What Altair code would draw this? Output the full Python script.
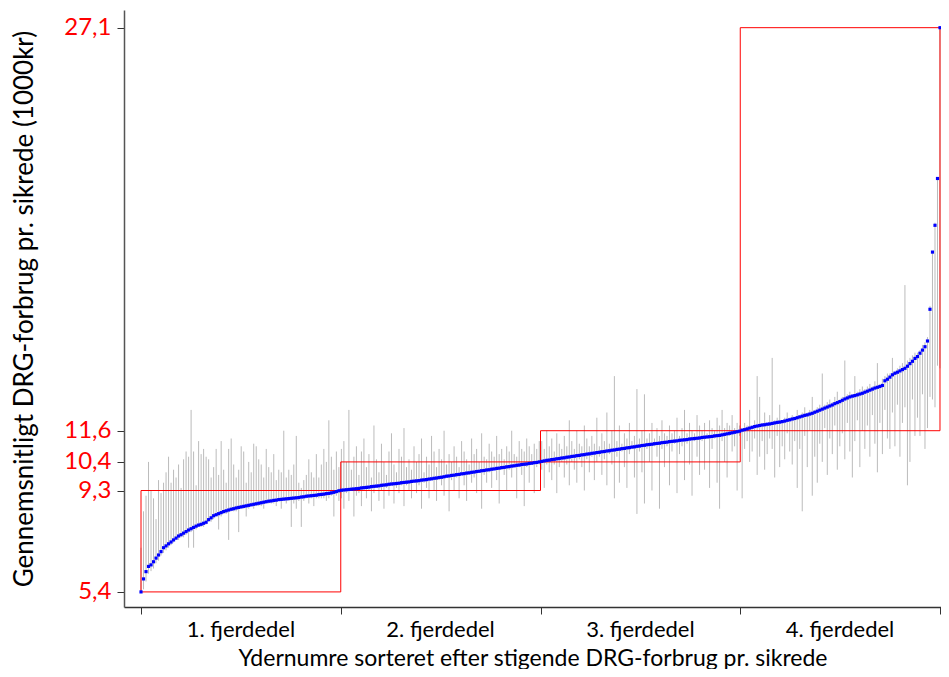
import altair as alt
import pandas as pd

# Average DRG cost per insured (1000 kr), one value per provider, sorted ascending
values = [
    5.40, 5.90, 6.18, 6.38, 6.44, 6.56, 6.70, 6.82, 6.95, 7.10,
    7.17, 7.25, 7.32, 7.40, 7.47, 7.55, 7.60, 7.66, 7.72, 7.78,
    7.83, 7.88, 7.93, 7.97, 8.00, 8.04, 8.08, 8.18, 8.25, 8.33,
    8.37, 8.41, 8.45, 8.49, 8.52, 8.55, 8.58, 8.60, 8.63, 8.65,
    8.67, 8.69, 8.71, 8.73, 8.75, 8.77, 8.79, 8.81, 8.83, 8.85,
    8.87, 8.89, 8.90, 8.92, 8.93, 8.95, 8.96, 8.97, 8.98, 8.99,
    9.00, 9.01, 9.02, 9.03, 9.05, 9.06, 9.08, 9.09, 9.10, 9.11,
    9.12, 9.14, 9.15, 9.16, 9.18, 9.19, 9.21, 9.23, 9.26, 9.29,
    # 2. fjerdedel
    9.31, 9.32, 9.33, 9.34, 9.35, 9.36, 9.37, 9.38, 9.40, 9.41,
    9.42, 9.43, 9.45, 9.46, 9.47, 9.48, 9.50, 9.51, 9.52, 9.54,
    9.55, 9.56, 9.57, 9.58, 9.60, 9.61, 9.62, 9.63, 9.65, 9.66,
    9.67, 9.68, 9.70, 9.71, 9.72, 9.74, 9.75, 9.77, 9.78, 9.80,
    9.81, 9.83, 9.85, 9.86, 9.88, 9.89, 9.91, 9.92, 9.94, 9.95,
    9.97, 9.98, 10.00, 10.01, 10.03, 10.04, 10.06, 10.07, 10.09, 10.10,
    10.12, 10.13, 10.15, 10.16, 10.18, 10.19, 10.21, 10.22, 10.24, 10.25,
    10.27, 10.28, 10.30, 10.31, 10.32, 10.34, 10.35, 10.37, 10.38, 10.40,
    # 3. fjerdedel
    10.42, 10.44, 10.46, 10.47, 10.49, 10.50, 10.52, 10.53, 10.55, 10.56,
    10.58, 10.59, 10.61, 10.62, 10.64, 10.65, 10.67, 10.68, 10.70, 10.71,
    10.73, 10.74, 10.76, 10.77, 10.79, 10.80, 10.82, 10.83, 10.85, 10.86,
    10.88, 10.89, 10.91, 10.92, 10.94, 10.95, 10.97, 10.98, 11.00, 11.01,
    11.03, 11.04, 11.06, 11.07, 11.08, 11.10, 11.11, 11.12, 11.14, 11.15,
    11.16, 11.18, 11.19, 11.20, 11.21, 11.23, 11.24, 11.25, 11.26, 11.28,
    11.29, 11.30, 11.31, 11.32, 11.34, 11.35, 11.36, 11.37, 11.38, 11.40,
    11.41, 11.42, 11.44, 11.46, 11.48, 11.50, 11.52, 11.54, 11.56, 11.58,
    # 4. fjerdedel
    11.62, 11.64, 11.67, 11.70, 11.73, 11.76, 11.78, 11.80, 11.82, 11.83,
    11.85, 11.86, 11.88, 11.90, 11.92, 11.93, 11.95, 11.97, 12.00, 12.02,
    12.05, 12.07, 12.10, 12.13, 12.16, 12.19, 12.21, 12.24, 12.27, 12.31,
    12.35, 12.39, 12.43, 12.47, 12.51, 12.55, 12.59, 12.64, 12.68, 12.72,
    12.77, 12.82, 12.86, 12.90, 12.93, 12.95, 12.98, 13.01, 13.04, 13.08,
    13.12, 13.16, 13.20, 13.24, 13.27, 13.30, 13.34, 13.52, 13.58, 13.66,
    13.75, 13.81, 13.85, 13.90, 13.95, 14.00, 14.08, 14.18, 14.27, 14.38,
    14.45, 14.58, 14.70, 14.83, 15.05, 16.27, 18.47, 19.50, 21.30, 27.10,
]

# grey ranges behind each point (low / high)
lows = [
    5.4, 5.5, 5.8, 6.1, 6.2, 6.3, 6.5, 6.6, 6.8, 6.9,
    7.0, 7.1, 7.2, 7.3, 7.4, 7.4, 7.5, 7.5, 7.6, 7.1,
    7.7, 7.1, 7.8, 7.9, 7.9, 7.9, 8.0, 8.1, 8.1, 8.2,
    8.3, 7.8, 8.3, 8.4, 8.4, 7.4, 8.5, 8.5, 8.5, 7.7,
    8.6, 8.6, 8.3, 8.6, 8.7, 8.6, 8.7, 8.7, 8.7, 8.6,
    8.8, 8.8, 8.8, 8.8, 8.7, 8.9, 8.6, 8.9, 8.8, 8.9,
    7.9, 8.8, 8.6, 8.9, 7.9, 8.9, 9.0, 8.8, 9.0, 8.7,
    9.0, 9.0, 9.0, 9.0, 8.9, 9.0, 9.1, 8.3, 9.1, 8.9,
    9.0, 8.6, 9.2, 8.9, 9.3, 8.3, 9.1, 9.2, 8.7, 9.3,
    9.0, 9.3, 8.5, 9.2, 9.4, 8.9, 9.3, 8.6, 9.4, 9.1,
    9.5, 8.8, 9.4, 9.2, 9.5, 8.7, 9.5, 9.3, 9.0, 9.6,
    9.2, 9.5, 8.6, 9.6, 9.4, 9.0, 9.7, 9.3, 8.9, 9.7,
    9.5, 9.1, 9.8, 8.5, 9.7, 9.3, 9.8, 9.0, 9.9, 9.5,
    8.9, 9.9, 9.6, 9.8, 9.2, 10.0, 8.6, 9.9, 9.6, 10.0,
    9.4, 10.1, 9.7, 8.8, 10.1, 9.9, 9.3, 10.1, 9.8, 10.2,
    9.0, 10.2, 9.9, 8.7, 10.2, 9.6, 10.3, 9.2, 10.2, 10.3,
    10.1, 9.4, 10.3, 10.0, 9.7, 10.3, 9.2, 10.2, 10.4, 9.8,
    10.3, 9.5, 10.4, 10.1, 9.6, 10.5, 10.2, 9.3, 10.5, 10.0,
    10.6, 9.7, 10.4, 10.6, 9.9, 10.5, 9.5, 10.7, 10.3, 9.0,
    10.6, 9.6, 10.8, 10.2, 9.4, 10.7, 10.9, 9.8, 8.4, 10.8,
    10.0, 8.8, 10.9, 10.4, 9.3, 11.0, 10.6, 8.6, 10.9, 10.2,
    11.0, 9.5, 10.8, 11.1, 9.2, 10.7, 11.0, 9.7, 11.1, 10.3,
    9.1, 11.2, 10.6, 9.9, 11.2, 10.1, 11.3, 9.4, 10.9, 11.3,
    9.6, 8.6, 11.2, 10.4, 9.8, 11.4, 10.8, 11.0, 9.3, 11.4,
    9.0, 10.9, 11.2, 10.4, 10.8, 11.3, 9.9, 10.6, 11.2, 10.1,
    10.7, 11.3, 10.9, 9.8, 11.4, 10.2, 11.0, 10.5, 11.5, 10.8,
    10.3, 11.2, 9.4, 10.9, 8.5, 11.4, 10.2, 11.6, 9.1, 10.6,
    9.6, 11.1, 10.4, 11.7, 9.9, 11.3, 10.7, 11.8, 10.1, 11.0,
    11.5, 10.5, 11.9, 10.8, 9.8, 11.2, 12.0, 10.2, 11.6, 10.9,
    11.8, 10.6, 12.2, 11.1, 10.0, 11.9, 10.7, 12.4, 11.3, 10.9,
    12.3, 11.0, 12.6, 10.6, 11.9, 12.5, 9.5, 10.4, 12.8, 11.4,
    12.1, 11.4, 13.0, 10.9, 11.7, 12.9, 12.8, 12.5, 14.1, 14.0,
]
highs = [
    7.1, 8.5, 9.1, 10.4, 9.3, 9.0, 8.2, 9.7, 9.2, 9.6,
    10.0, 10.6, 9.6, 10.1, 9.8, 10.3, 9.4, 10.5, 10.8, 10.6,
    12.4, 10.8, 9.5, 11.2, 10.7, 10.9, 10.6, 10.5, 9.8, 10.2,
    10.9, 9.9, 11.2, 10.1, 9.6, 10.9, 11.3, 10.3, 9.8, 10.1,
    11.0, 10.8, 9.6, 10.4, 10.0, 11.1, 11.0, 10.5, 10.3, 9.8,
    10.9, 10.2, 10.0, 10.7, 9.7, 10.1, 10.0, 11.6, 9.8, 10.1,
    9.9, 10.3, 11.4, 9.6, 9.4, 9.7, 9.9, 10.5, 10.0, 9.8,
    10.7, 9.8, 10.3, 10.9, 10.4, 12.0, 10.6, 10.1, 10.8, 10.2,
    10.9, 11.2, 10.4, 12.4, 10.1, 10.6, 11.0, 9.9, 10.8, 11.3,
    10.2, 10.7, 9.8, 11.8, 10.5, 10.0, 11.1, 10.4, 9.9, 10.8,
    11.5, 10.3, 10.0, 10.9, 10.6, 11.7, 10.2, 10.5, 10.1, 11.0,
    10.4, 10.7, 11.3, 10.0, 10.6, 10.3, 11.4, 10.8, 10.2, 10.9,
    10.5, 11.6, 10.3, 10.7, 10.4, 11.0, 10.6, 10.2, 11.2, 10.8,
    10.5, 10.3, 11.3, 10.7, 10.9, 10.4, 11.5, 10.6, 10.5, 11.1,
    10.8, 10.6, 11.4, 10.7, 10.9, 10.5, 11.0, 10.8, 11.6, 10.7,
    10.6, 11.2, 10.9, 10.8, 11.3, 11.0, 10.7, 11.1, 10.9, 11.2,
    11.2, 10.9, 11.6, 11.0, 11.3, 10.8, 11.5, 11.1, 10.9, 11.4,
    11.0, 12.0, 11.2, 10.9, 11.6, 11.1, 11.0, 11.8, 11.3, 11.0,
    11.4, 11.1, 12.1, 11.0, 11.5, 11.2, 12.3, 11.1, 11.6, 13.7,
    11.2, 11.8, 11.1, 11.5, 11.3, 11.9, 11.2, 11.4, 13.2, 11.3,
    11.6, 13.0, 11.3, 11.5, 11.9, 11.3, 11.7, 11.4, 12.0, 11.5,
    11.4, 11.8, 11.5, 11.6, 12.1, 11.4, 11.7, 12.4, 11.5, 11.9,
    11.6, 11.5, 12.2, 11.8, 11.6, 11.9, 11.5, 12.0, 11.7, 11.6,
    12.1, 11.8, 12.4, 11.7, 11.9, 11.8, 12.2, 11.7, 11.9, 11.8,
    11.7, 11.9, 11.8, 12.4, 11.8, 12.0, 13.7, 12.9, 11.9, 12.3,
    11.9, 12.2, 14.4, 12.0, 12.1, 12.6, 12.0, 12.1, 12.3, 12.1,
    12.2, 12.1, 12.4, 12.2, 12.3, 12.5, 12.3, 12.4, 12.9, 12.4,
    12.5, 12.6, 13.8, 12.6, 12.7, 12.8, 12.7, 12.9, 13.1, 12.8,
    12.9, 14.3, 13.0, 13.1, 13.0, 13.7, 13.1, 13.2, 13.3, 13.2,
    13.3, 13.4, 13.3, 13.5, 14.2, 13.4, 13.6, 13.7, 13.8, 13.8,
    14.4, 13.9, 14.0, 14.1, 14.2, 17.2, 14.3, 14.4, 14.5, 14.6,
    14.6, 14.7, 14.9, 15.0, 15.2, 16.4, 18.5, 19.6, 21.3, 27.1,
]

# quartile boxes: rank span and value span
box_start = [0, 79.75, 159.5, 239.25]
box_end = [79.75, 159.5, 239.25, 319]
box_low = [5.4, 9.3, 10.4, 11.6]
box_high = [9.3, 10.4, 11.6, 27.1]
quartile_labels = ["1. fjerdedel", "2. fjerdedel", "3. fjerdedel", "4. fjerdedel"]
quartile_mid = [39.9, 119.6, 199.4, 279.1]
y_ticks = [5.4, 9.3, 10.4, 11.6, 27.1]
x_ticks = [0, 79.75, 159.5, 239.25, 319]

FONT = "Lato"
W, H = 817, 597

df = pd.DataFrame({"rank": range(len(values)), "value": values, "low": lows, "high": highs})
boxes = pd.DataFrame({"x": box_start, "x2": box_end, "y": box_low, "y2": box_high})
labels = pd.DataFrame({"x": quartile_mid, "label": quartile_labels})

x_scale = alt.Scale(domain=[-6.79, 319.4], nice=False, zero=False)
y_scale = alt.Scale(domain=[4.82, 27.78], nice=False, zero=False)

x_axis = alt.Axis(values=x_ticks, labels=False, grid=False, tickSize=7, tickColor="#333",
                  domainColor="#333", domainWidth=1.5,
                  title="Ydernumre sorteret efter stigende DRG-forbrug pr. sikrede",
                  titleFont=FONT, titleFontSize=23, titleFontWeight="normal", titleColor="black",
                  titleBaseline="alphabetic", titleY=58)
y_axis = alt.Axis(values=y_ticks, grid=False, tickSize=7, tickColor="#333",
                  domainColor="#555", domainWidth=1.5,
                  labelExpr="replace(format(datum.value, '.1f'), '.', ',')",
                  labelColor="red", labelFont=FONT, labelFontSize=24, labelPadding=6,
                  labelOverlap=False,
                  title="Gennemsnitligt DRG-forbrug pr. sikrede (1000kr)",
                  titleFont=FONT, titleFontSize=26, titleFontWeight="normal", titleColor="black",
                  titleBaseline="alphabetic", titleX=-92)

ranges = alt.Chart(df).mark_rule(color="#bbbbbb", strokeWidth=1).encode(
    x=alt.X("rank:Q", scale=x_scale, axis=x_axis),
    y=alt.Y("low:Q", scale=y_scale, axis=y_axis),
    y2="high:Q",
)

rects = alt.Chart(boxes).mark_rect(fillOpacity=0, stroke="red", strokeWidth=1).encode(
    x="x:Q", x2="x2:Q", y="y:Q", y2="y2:Q",
)

points = alt.Chart(df).mark_point(shape="square", filled=True, color="#0000ff", size=10, opacity=1).encode(
    x="rank:Q", y="value:Q",
)

text = alt.Chart(labels).mark_text(font=FONT, fontSize=22, color="black", baseline="alphabetic").encode(
    x="x:Q", y=alt.value(H + 30), text="label:N",
)

chart = (
    alt.layer(ranges, rects, points, text)
    .properties(width=W, height=H, autosize=alt.AutoSizeParams(type="none"),
                padding={"left": 116, "top": 2, "right": 0, "bottom": 62}, background="white")
    .configure_view(stroke=None)
)

chart.save("out.html", embed_options={"renderer": "svg", "actions": False})
